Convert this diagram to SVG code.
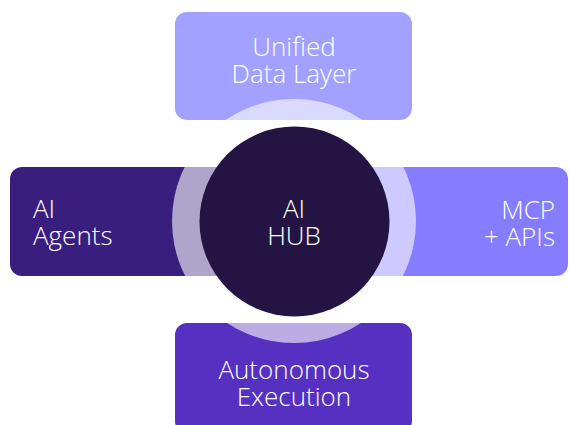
<svg xmlns="http://www.w3.org/2000/svg" width="569" height="425" viewBox="0 0 569 425">
  <style>
    .lbl { font-family: "Open Sans", "Liberation Sans", sans-serif; font-weight: 300; font-size: 26px; fill: #ffffff; }
    .mid { text-anchor: middle; }
    .end { text-anchor: end; }
  </style>
  <rect width="569" height="425" fill="#ffffff"/>
  <g id="node-data-layer">
    <rect x="175" y="12" width="237" height="108" rx="12" fill="#a3a1ff"/>
  </g>
  <g id="node-ai-agents">
    <rect x="10" y="167" width="230" height="109" rx="12" fill="#391e7e"/>
  </g>
  <g id="node-mcp-apis">
    <rect x="350" y="167" width="218" height="109" rx="12" fill="#857cff"/>
  </g>
  <g id="node-execution">
    <rect x="175" y="323" width="237" height="110" rx="12" fill="#5630c0"/>
  </g>
  <g id="connectors">
    <circle cx="294" cy="221" r="122" fill="#ffffff" fill-opacity="0.6"/>
  </g>
  <g id="node-ai-hub">
    <circle cx="294.5" cy="221.5" r="95" fill="#231444"/>
  </g>
  <g id="labels">
    <text class="lbl mid" x="294" y="56">Unified</text>
    <text class="lbl mid" x="294" y="83">Data Layer</text>
    <text class="lbl" x="33" y="218">AI</text>
    <text class="lbl" x="33" y="245">Agents</text>
    <text class="lbl end" x="555" y="219">MCP</text>
    <text class="lbl end" x="555" y="246">+ APIs</text>
    <text class="lbl mid" x="294" y="218">AI</text>
    <text class="lbl mid" x="294" y="245">HUB</text>
    <text class="lbl mid" x="294" y="379">Autonomous</text>
    <text class="lbl mid" x="294" y="406">Execution</text>
  </g>
</svg>
